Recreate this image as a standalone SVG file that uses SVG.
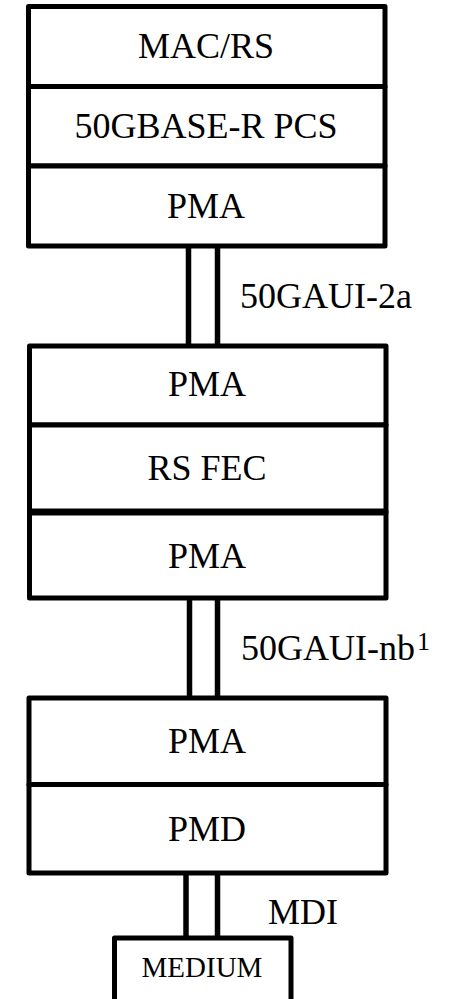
<svg xmlns="http://www.w3.org/2000/svg" width="449" height="999" viewBox="0 0 449 999">
<style>
.box{fill:#fff;stroke:#000;stroke-width:5;stroke-linejoin:round}
.c{stroke:#000;stroke-width:5.5;fill:none}
text{font-family:'Liberation Serif','Times New Roman',Tinos,'DejaVu Serif',serif;font-size:36px;fill:#000}
.m{text-anchor:middle}
</style>
<rect width="449" height="999" fill="#fff"/>
<g id="connectors">
<line class="c" x1="188.5" y1="246" x2="188.5" y2="346"/>
<line class="c" x1="217.5" y1="246" x2="217.5" y2="346"/>
<line class="c" x1="189.5" y1="598" x2="189.5" y2="698"/>
<line class="c" x1="217.5" y1="598" x2="217.5" y2="698"/>
<line class="c" x1="186" y1="873" x2="186" y2="938"/>
<line class="c" x1="217.5" y1="873" x2="217.5" y2="938"/>
<text x="240" y="308">50GAUI-2a</text>
<text x="241" y="660">50GAUI-nb<tspan style="font-size:26px" dx="2" dy="-10">1</tspan></text>
<text x="268" y="924">MDI</text>
</g>
<g id="macrs"><rect class="box" x="28.5" y="6.5" width="356.5" height="80"/><text class="m" x="206" y="58">MAC/RS</text></g>
<g id="pcs"><rect class="box" x="28.5" y="86.5" width="356.5" height="79.5"/><text class="m" x="206" y="138">50GBASE-R PCS</text></g>
<g id="pma1"><rect class="box" x="28.5" y="166" width="356.5" height="80"/><text class="m" x="206" y="218">PMA</text></g>
<g id="pma2"><rect class="box" x="29.5" y="346" width="356.5" height="79"/><text class="m" x="207" y="396">PMA</text></g>
<g id="rsfec"><rect class="box" x="29.5" y="425" width="356.5" height="87"/><text class="m" x="207" y="480">RS FEC</text></g>
<g id="pma3"><rect class="box" x="29.5" y="512" width="356.5" height="86"/><line x1="29.5" y1="512" x2="386" y2="512" stroke="#000" stroke-width="7"/><text class="m" x="207" y="568">PMA</text></g>
<g id="pma4"><rect class="box" x="29" y="698" width="357" height="86.5"/><text class="m" x="207" y="753">PMA</text></g>
<g id="pmd"><rect class="box" x="29" y="784.5" width="357" height="88.5"/><text class="m" x="207" y="841">PMD</text></g>
<g id="medium"><rect class="box" x="114.5" y="938" width="176.5" height="66"/><text class="m" x="202" y="977" style="font-size:29px">MEDIUM</text></g>
</svg>
